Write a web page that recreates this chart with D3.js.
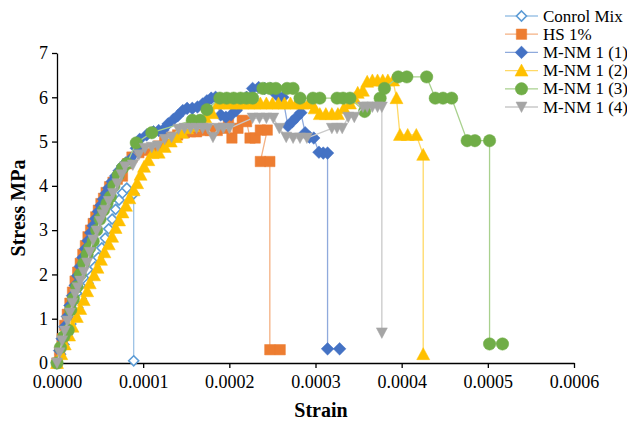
<!DOCTYPE html>
<html><head><meta charset="utf-8">
<script src="https://cdn.jsdelivr.net/npm/d3@7"></script>
<style>
body{margin:0;background:#fff}
svg{display:block}
text{font-family:"Liberation Serif","Times New Roman",serif;fill:#000}
</style>
</head><body><svg id="c" width="627" height="423"></svg>
<script>
// strain in microstrain (x 1e-6), stress in MPa
const xTicks = [0,100,200,300,400,500,600];
const xTickLabels = ["0.0000","0.0001","0.0002","0.0003","0.0004","0.0005","0.0006"];
const yTicks = [0,1,2,3,4,5,6,7];
const seriesNames = ["Conrol Mix","HS 1%","M-NM 1 (1)","M-NM 1 (2)","M-NM 1 (3)","M-NM 1 (4)"];

const controlMix = [[0,0],[4,0.2],[8,0.42],[12,0.65],[16,0.88],[20,1.05],[24,1.25],[28,1.45],[32,1.62],[36,1.8],[40,1.97],[44,2.17],[48,2.38],[52,2.6],[56,2.82],[60,3.03],[64,3.25],[68,3.47],[72,3.68],[76,3.84],[81,3.95],[89,3.82],[89,0.05]];

const hs1 = [[0,0],[3,0.25],[6,0.55],[9,0.85],[12,1.1],[15,1.35],[18,1.6],[21,1.85],[24,2.05],[27,2.25],[30,2.45],[33,2.65],[36,2.85],[39,3.0],[42,3.15],[45,3.3],[48,3.45],[51,3.6],[54,3.72],[57,3.85],[61,3.98],[65,4.08],[70,4.15],[76,4.22],[82,4.5],[87,4.65],[95,4.75],[103,4.8],[111,4.82],[118,4.9],[125,5.05],[132,5.1],[140,5.15],[148,5.2],[155,5.22],[162,5.22],[170,5.25],[178,5.25],[186,5.25],[193,5.3],[199,5.52],[203,5.08],[210,5.3],[215,5.48],[220,5.45],[224,5.08],[230,5.08],[236,5.26],[244,5.26],[236,4.55],[247,4.55],[247,0.3],[259,0.3]];

const mnm1 = [[0,0],[3,0.28],[6,0.55],[9,0.82],[12,1.05],[15,1.3],[18,1.52],[21,1.75],[24,1.97],[27,2.18],[30,2.38],[33,2.58],[36,2.76],[39,2.94],[42,3.1],[45,3.26],[48,3.42],[51,3.56],[54,3.7],[57,3.83],[60,3.95],[64,4.1],[68,4.22],[72,4.34],[76,4.45],[80,4.52],[87,4.63],[92,4.85],[96,5.05],[104,5.15],[112,5.22],[118,5.25],[123,5.26],[129,5.4],[135,5.5],[140,5.58],[146,5.7],[151,5.75],[157,5.75],[163,5.78],[169,5.85],[174,5.92],[179,5.98],[184,6.0],[190,5.6],[196,5.55],[202,5.6],[208,5.7],[214,5.85],[220,6.0],[227,6.2],[234,6.22],[241,6.2],[248,6.2],[255,6.05],[262,6.0],[268,5.35],[273,5.45],[278,5.55],[283,5.65],[288,5.2],[293,5.1],[298,5.08],[304,4.76],[309,4.74],[314,4.74],[314,0.32],[328,0.32]];

const mnm2 = [[0,0],[5,0.2],[9,0.42],[14,0.62],[18,0.82],[23,1.04],[27,1.22],[31,1.42],[35,1.62],[38,1.8],[43,1.98],[47,2.15],[51,2.33],[55,2.5],[60,2.68],[64,2.85],[68,3.05],[72,3.22],[76,3.4],[80,3.55],[84,3.72],[89,3.9],[93,4.06],[97,4.25],[101,4.43],[106,4.58],[111,4.74],[118,4.75],[125,4.88],[132,5.0],[138,5.1],[145,5.2],[151,5.3],[158,5.35],[165,5.45],[172,5.55],[180,5.64],[187,5.86],[194,5.86],[201,5.86],[208,5.86],[215,5.86],[222,5.86],[229,5.86],[236,5.86],[243,5.86],[250,5.86],[257,5.86],[264,5.86],[271,5.86],[278,5.86],[285,5.86],[292,5.86],[299,5.75],[305,5.62],[312,5.62],[319,5.62],[326,5.62],[333,5.75],[340,5.86],[345,5.98],[349,6.1],[355,6.15],[360,6.35],[366,6.38],[372,6.38],[378,6.38],[384,6.38],[390,6.38],[394,5.98],[398,5.15],[407,5.15],[417,5.15],[425,4.7],[425,0.2]];

const mnm3 = [[0,0],[4,0.35],[8,0.6],[13,0.74],[16,1.2],[19,1.45],[23,1.72],[27,2.0],[31,2.25],[35,2.45],[38,2.6],[42,2.75],[46,3.0],[50,3.25],[54,3.45],[58,3.6],[62,3.75],[66,4.0],[71,4.24],[76,4.4],[81,4.5],[92,4.97],[110,5.2],[157,5.48],[166,5.48],[174,5.72],[189,5.98],[197,5.98],[205,5.98],[213,5.98],[220,5.98],[227,5.98],[239,6.2],[247,6.2],[254,6.2],[267,6.2],[274,6.2],[282,5.98],[297,5.98],[305,5.98],[325,5.98],[332,5.98],[340,5.98],[357,5.68],[375,5.98],[380,6.2],[396,6.46],[406,6.46],[429,6.46],[439,5.98],[448,5.98],[458,5.98],[476,5.02],[485,5.02],[502,5.02],[502,0.43],[517,0.43]];

const mnm4 = [[0,0],[3,0.23],[6,0.5],[9,0.72],[12,0.95],[15,1.13],[18,1.35],[21,1.55],[24,1.7],[27,1.85],[31,2.05],[35,2.26],[38,2.5],[42,2.78],[46,2.98],[50,3.2],[53,3.35],[56,3.45],[60,3.65],[65,3.83],[70,4.05],[75,4.25],[79,4.43],[88,4.47],[95,4.7],[102,4.85],[110,4.87],[117,4.9],[125,5.05],[133,5.1],[141,5.28],[148,5.3],[155,5.3],[162,5.3],[169,5.3],[175,5.3],[181,5.1],[187,5.3],[193,5.3],[200,5.3],[227,5.53],[235,5.53],[243,5.53],[251,5.53],[258,5.3],[266,5.1],[274,5.08],[282,5.08],[290,5.08],[319,5.3],[325,5.3],[331,5.3],[338,5.55],[345,5.55],[355,5.78],[360,5.78],[366,5.78],[372,5.78],[377,5.78],[377,0.68]];

const seriesData = [controlMix, hs1, mnm1, mnm2, mnm3, mnm4];
const markerColors = ["#5B9BD5","#ED7D31","#4472C4","#FFC000","#70AD47","#A5A5A5"];
const lineColors = ["#9DC3E6","#F4B183","#8FAADC","#FFD966","#A9D18E","#C9C9C9"];
const markerTypes = ["hollowDiamond","square","diamond","triangle","circle","downTriangle"];

const svg = d3.select("#c");
const x = d3.scaleLinear().domain([0,600]).range([57,574]);
const y = d3.scaleLinear().domain([0,7]).range([363,53]);

function markerPath(t){
  switch(t){
    case "hollowDiamond": return "M0,-5L5,0L0,5L-5,0Z";
    case "diamond": return "M0,-6.3L6.3,0L0,6.3L-6.3,0Z";
    case "square": return "M-5.2,-5.2H5.2V5.2H-5.2Z";
    case "triangle": return "M0,-6.5L6.5,5.5L-6.5,5.5Z";
    case "downTriangle": return "M-5.5,-5L5.5,-5L0,5.5Z";
    case "circle": return d3.symbol(d3.symbolCircle, Math.PI*6.2*6.2)();
  }
}
function drawMarker(g, t, i){
  const p = g.append("path").attr("d", markerPath(t));
  if(t==="hollowDiamond"){
    p.attr("fill","#fff").attr("stroke",markerColors[i]).attr("stroke-width",1.6);
  } else {
    p.attr("fill",markerColors[i]).attr("stroke",markerColors[i]).attr("stroke-width",0.5);
  }
}

// axes
const xAxis = d3.axisBottom(x).tickValues(xTicks).tickFormat((d,i)=>xTickLabels[i]).tickSize(5).tickSizeOuter(0).tickPadding(7);
const gx = svg.append("g").attr("transform","translate(0,363)").call(xAxis);
const yAxis = d3.axisLeft(y).tickValues(yTicks).tickFormat(d3.format("d")).tickSize(5).tickSizeOuter(0).tickPadding(4);
const gy = svg.append("g").attr("transform","translate(57,0)").call(yAxis);
[gx,gy].forEach(g=>{
  g.select(".domain").attr("stroke","#000").attr("stroke-width",1.3);
  g.selectAll(".tick line").attr("stroke","#000").attr("stroke-width",1.3);
  g.selectAll(".tick text").attr("font-size",18).attr("font-family","Liberation Serif").attr("fill","#000");
});

const line = d3.line().x(d=>x(d[0])).y(d=>y(d[1]));
seriesData.forEach((data,i)=>{
  const g = svg.append("g");
  g.append("path").datum(data).attr("d",line).attr("fill","none").attr("stroke",lineColors[i]).attr("stroke-width",1.3);
  data.forEach(d=>{
    const m = g.append("g").attr("transform",`translate(${x(d[0])},${y(d[1])})`);
    drawMarker(m, markerTypes[i], i);
  });
});

// axis titles
svg.append("text").attr("x",321).attr("y",417).attr("text-anchor","middle").attr("font-size",20).attr("font-weight","bold").text("Strain");
svg.append("text").attr("transform","translate(25,208) rotate(-90)").attr("text-anchor","middle").attr("font-size",20).attr("font-weight","bold").text("Stress MPa");

// legend
const leg = svg.append("g");
seriesNames.forEach((n,i)=>{
  const yy = 16 + i*18.2;
  const r = leg.append("g");
  r.append("line").attr("x1",505).attr("x2",538).attr("y1",yy).attr("y2",yy).attr("stroke",lineColors[i]).attr("stroke-width",1.3);
  const m = r.append("g").attr("transform",`translate(521.5,${yy})`);
  drawMarker(m, markerTypes[i], i);
  r.append("text").attr("x",543).attr("y",yy).attr("dy","0.33em").attr("font-size",17).text(n);
});
</script>
</body></html>
